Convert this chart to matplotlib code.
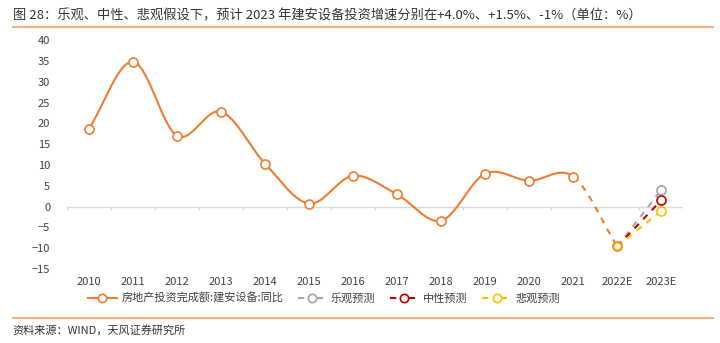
import numpy as np
import matplotlib
matplotlib.use("Agg")
import matplotlib.pyplot as plt
from matplotlib.lines import Line2D

plt.rcParams['font.family'] = ['Noto Sans CJK SC', 'DejaVu Sans']

categories = ['2010', '2011', '2012', '2013', '2014', '2015', '2016', '2017',
              '2018', '2019', '2020', '2021', '2022E', '2023E']
actual = [18.7, 34.8, 17.0, 22.8, 10.3, 0.7, 7.4, 2.9, -3.4, 7.9, 6.2, 7.2]
forecast_2022 = -9.6
optimistic_2023 = 4.0
neutral_2023 = 1.5
pessimistic_2023 = -1.0

title = "图 28：乐观、中性、悲观假设下，预计 2023 年建安设备投资增速分别在+4.0%、+1.5%、-1%（单位：%）"
source = "资料来源：WIND，天风证券研究所"
series_names = ['房地产投资完成额:建安设备:同比', '乐观预测', '中性预测', '悲观预测']

ORANGE = '#ED7D31'
GRAY = '#A5A5A5'
RED = '#C00000'
YELLOW = '#FFC000'
LW = 1.5


def catmull(xs, ys, n=30):
    xs = np.asarray(xs, float)
    ys = np.asarray(ys, float)
    m = len(xs)
    tx = np.zeros(m)
    ty = np.zeros(m)
    for i in range(m):
        a = max(i - 1, 0)
        b = min(i + 1, m - 1)
        tx[i] = (xs[b] - xs[a]) / 2 if 0 < i < m - 1 else (xs[b] - xs[a])
        ty[i] = (ys[b] - ys[a]) / 2 if 0 < i < m - 1 else (ys[b] - ys[a])
    segs = []
    for i in range(m - 1):
        t = np.linspace(0, 1, n)
        h00 = 2 * t**3 - 3 * t**2 + 1
        h10 = t**3 - 2 * t**2 + t
        h01 = -2 * t**3 + 3 * t**2
        h11 = t**3 - t**2
        sx = h00 * xs[i] + h10 * tx[i] + h01 * xs[i + 1] + h11 * tx[i + 1]
        sy = h00 * ys[i] + h10 * ty[i] + h01 * ys[i + 1] + h11 * ty[i + 1]
        segs.append((sx, sy))
    return segs


fig = plt.figure(figsize=(7.2, 3.43), dpi=100)
ax = fig.add_axes([0.093, 0.216, 0.856, 0.667])

x = np.arange(len(categories))
all_y = actual + [forecast_2022]
segs = catmull(x[:len(all_y)], all_y)

solid_x = np.concatenate([s[0] for s in segs[:len(actual) - 1]])
solid_y = np.concatenate([s[1] for s in segs[:len(actual) - 1]])
ax.plot(solid_x, solid_y, color=ORANGE, lw=LW, zorder=3, solid_capstyle='round')
ax.plot(segs[-1][0], segs[-1][1], color=ORANGE, lw=LW, ls=(0, (3, 3)), zorder=3)

mk = dict(marker='o', markersize=6.5, markerfacecolor='white', markeredgewidth=1.2)
ax.plot(x[:len(actual)], actual, ls='none', markeredgecolor=ORANGE, zorder=5, **mk)

x22, x23 = x[12], x[13]
for val, col in [(optimistic_2023, GRAY), (neutral_2023, RED), (pessimistic_2023, YELLOW)]:
    ax.plot([x22, x23], [forecast_2022, val], color=col, lw=LW, ls=(0, (3, 3)), zorder=4)
    ax.plot([x23], [val], ls='none', markeredgecolor=col, zorder=5, **mk)
ax.plot([x22], [forecast_2022], ls='none', markeredgecolor=ORANGE, zorder=5, **mk)
ax.plot([x22], [forecast_2022], ls='none', marker='o', markersize=5, markerfacecolor='none',
        markeredgecolor=YELLOW, markeredgewidth=1.0, zorder=6)

ax.set_xlim(-0.5, len(categories) - 0.5)
ax.set_ylim(-15, 40)
ax.set_yticks(np.arange(-15, 41, 5))
ax.set_xticks(x)
ax.set_xticklabels(categories)
ax.tick_params(axis='both', length=0, labelsize=8, colors='#404040')
ax.tick_params(axis='y', pad=12)
ax.tick_params(axis='x', pad=6)
for s in ax.spines.values():
    s.set_visible(False)

ax.axhline(0, color='#D9D9D9', lw=1.0, zorder=1)
ax.vlines(np.arange(-0.5, len(categories), 1.0), -0.9, 0, color='#D9D9D9', lw=1.0, zorder=1)

leg_dash = (0, (3, 6))
handles = [
    Line2D([], [], color=ORANGE, lw=LW, marker='o', markersize=6, markerfacecolor='white',
           markeredgecolor=ORANGE, markeredgewidth=1.2),
    Line2D([], [], color=GRAY, lw=LW, ls=leg_dash, marker='o', markersize=6,
           markerfacecolor='white', markeredgecolor=GRAY, markeredgewidth=1.2),
    Line2D([], [], color=RED, lw=LW, ls=leg_dash, marker='o', markersize=6,
           markerfacecolor='white', markeredgecolor=RED, markeredgewidth=1.2),
    Line2D([], [], color=YELLOW, lw=LW, ls=leg_dash, marker='o', markersize=6,
           markerfacecolor='white', markeredgecolor=YELLOW, markeredgewidth=1.2),
]
fig.legend(handles, series_names, loc='center', bbox_to_anchor=(0.45, 0.131), ncol=4,
           frameon=False, fontsize=8, handlelength=2.6, columnspacing=1.3, handletextpad=0.4,
           labelcolor='#404040')

fig.text(0.018, 0.955, title, fontsize=9.5, color='#333333', va='center', ha='left')
fig.add_artist(Line2D([0.018, 0.99], [0.92, 0.92], color='#F4B183', lw=1.5, transform=fig.transFigure))
fig.add_artist(Line2D([0.018, 0.99], [0.073, 0.073], color='#F4B183', lw=1.5, transform=fig.transFigure))
fig.text(0.018, 0.038, source, fontsize=8, color='#333333', va='center', ha='left')

fig.savefig('out.png', dpi=100, facecolor='white')
